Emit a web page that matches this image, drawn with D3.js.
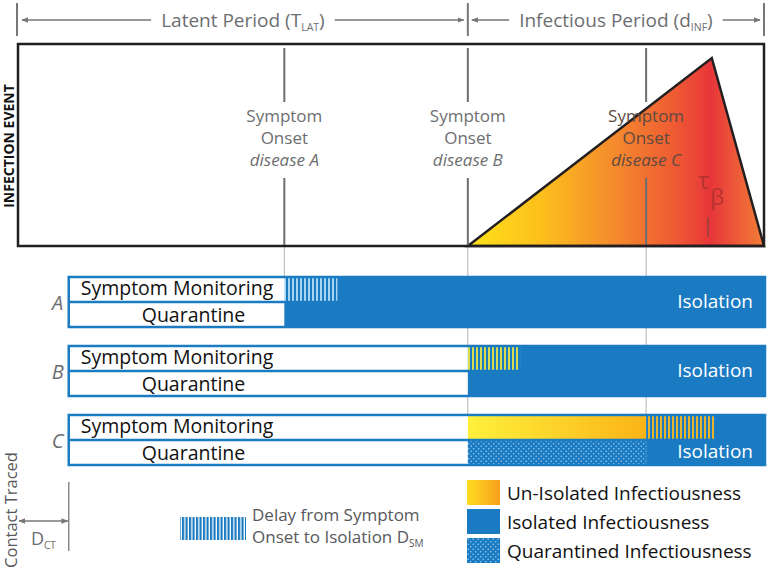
<!DOCTYPE html>
<html>
<head>
<meta charset="utf-8">
<script src="https://cdn.jsdelivr.net/npm/d3@7"></script>
<style>
	body { margin: 0; background: #fff; }
	svg { display: block; font-family: 'Open Sans', sans-serif; }
</style>
</head>
<body>
<div id="chart"><svg width="768" height="571"></svg></div>
<script>
// time runs in arbitrary units: 0 = infection event, 100 = end of infectious period
var periodNames = ['Latent Period (', 'Infectious Period ('];
var periodSymbols = ['T', 'd'];
var periodSubs = ['LAT', 'INF'];
var periodBounds = [0, 60.3, 100];

var diseases = ['A', 'B', 'C'];
var onsetTimes = [35.7, 60.3, 84.2];
var isolationDelays = [7.1, 7.0, 9.1];
var guideEnds = ['A', 'C', 'C'];
var contactTracedTime = 6.8;

// relative infectiousness profile over the infectious period
var profileTimes = [60.3, 93, 100];
var profileValues = [0, 1, 0];
var tauTime = 92.5;

var legendLabels = ['Un-Isolated Infectiousness', 'Isolated Infectiousness', 'Quarantined Infectiousness'];
var legendFills = ['url(#legendGrad)', '#1b7bc2', 'url(#dots)'];

const Diagram = {
	blue: '#1b7bc2',
	gray: '#6d6e71',
	ink: '#231f20',

	init: function() {
		const self = this;
		var defs = d3.select('#chart > svg').append('defs');

		function gradient(id, stops, x1, x2) {
			var g = defs.append('linearGradient').attr('id', id);
			if (x1 !== undefined) {
				g.attr('gradientUnits', 'userSpaceOnUse').attr('x1', x1).attr('x2', x2).attr('y1', 0).attr('y2', 0);
			}
			stops.forEach(function(s) {
				g.append('stop').attr('offset', s[0]).attr('stop-color', s[1]);
			});
		}
		self.gradient = gradient;

		function stripes(id, bg, fg, w, period) {
			var p = defs.append('pattern').attr('id', id)
				.attr('patternUnits', 'userSpaceOnUse')
				.attr('width', period).attr('height', 10);
			p.append('rect').attr('width', period).attr('height', 10).attr('fill', bg);
			p.append('rect').attr('width', w).attr('height', 10).attr('fill', fg);
		}
		stripes('stripesA', self.blue, '#a9d6f2', 2, 4);
		stripes('stripesB', self.blue, '#d9de4e', 2, 4);
		stripes('stripesC', self.blue, '#e9b32c', 2, 4);
		stripes('stripesLegend', '#fff', self.blue, 2.2, 3.5);

		var dots = defs.append('pattern').attr('id', 'dots')
			.attr('patternUnits', 'userSpaceOnUse').attr('width', 5).attr('height', 5);
		dots.append('rect').attr('width', 5).attr('height', 5).attr('fill', self.blue);
		dots.append('circle').attr('cx', 1.2).attr('cy', 1.2).attr('r', 0.8).attr('fill', '#9ccbef');
		dots.append('circle').attr('cx', 3.7).attr('cy', 3.7).attr('r', 0.8).attr('fill', '#9ccbef');

		gradient('legendGrad', [[0, '#ffdc22'], [1, '#f6a01c']]);

		var m = defs.append('marker').attr('id', 'arrow')
			.attr('viewBox', '0 0 10 10').attr('refX', 9).attr('refY', 5)
			.attr('markerWidth', 7).attr('markerHeight', 7).attr('orient', 'auto-start-reverse')
			.attr('markerUnits', 'userSpaceOnUse');
		m.append('path').attr('d', 'M0,1L10,5L0,9Z').attr('fill', '#777');
	},

	draw: function() {
		const self = this;
		var svg = d3.select('#chart > svg');
		var x = d3.scaleLinear().domain([0, 100]).range([18, 764]);
		var yProfile = d3.scaleLinear().domain([0, 1]).range([246, 58]);
		var yBar = d3.scaleBand().domain(diseases).range([277, 465]).paddingInner(0.275);
		var rowH = yBar.bandwidth() / 2;
		var infStart = periodBounds[1];

		self.gradient('infGrad', [[0, '#ffe21a'], [0.25, '#fcbf1c'], [0.5, '#f4892d'], [0.7, '#ee5a33'],
			[0.82, '#e7363a'], [1, '#f37e37']], x(infStart), x(100));
		self.gradient('unisoGrad', [[0, '#fff03c'], [1, '#fbb417']], x(infStart), x(onsetTimes[2]));

		// period arrows
		var top = svg.append('g').attr('class', 'periods');
		top.selectAll('line.tick').data(periodBounds).join('line')
			.attr('class', 'tick')
			.attr('x1', function(d) { return x(d) - (d === 0 ? 1 : 0) })
			.attr('x2', function(d) { return x(d) - (d === 0 ? 1 : 0) })
			.attr('y1', 3).attr('y2', 36)
			.attr('stroke', '#777').attr('stroke-width', 2);
		periodNames.forEach(function(name, i) {
			var a = x(periodBounds[i]), b = x(periodBounds[i + 1]);
			var cx = (a + b) / 2;
			var t = top.append('text').attr('x', cx).attr('y', 27)
				.attr('text-anchor', 'middle').attr('font-size', 19).attr('fill', self.gray);
			t.append('tspan').text(name + periodSymbols[i]);
			t.append('tspan').attr('font-size', 10.5).attr('dy', 4).text(periodSubs[i]);
			t.append('tspan').attr('dy', -4).text(')');
			var half = t.node().getComputedTextLength() / 2;
			[[cx - half - 10, a + 4], [cx + half + 10, b - 4]].forEach(function(seg) {
				top.append('line').attr('x1', seg[0]).attr('x2', seg[1]).attr('y1', 20).attr('y2', 20)
					.attr('stroke', '#777').attr('stroke-width', 1.6).attr('marker-end', 'url(#arrow)');
			});
		});

		// guide lines from symptom onsets down to the bars
		svg.append('g').selectAll('line').data(onsetTimes).join('line')
			.attr('x1', function(d) { return x(d) }).attr('x2', function(d) { return x(d) })
			.attr('y1', 246).attr('y2', function(d, i) { return yBar(guideEnds[i]) })
			.attr('stroke', '#b5b5b5').attr('stroke-width', 1);

		// infectiousness profile
		var profile = profileTimes.map(function(t, i) { return [t, profileValues[i]] });
		svg.append('path').datum(profile)
			.attr('d', d3.line().x(function(d) { return x(d[0]) }).y(function(d) { return yProfile(d[1]) }).curve(d3.curveLinearClosed))
			.attr('fill', 'url(#infGrad)').attr('stroke', self.ink).attr('stroke-width', 2.5).attr('stroke-linejoin', 'miter');

		// onset markers and labels
		var onset = svg.append('g').selectAll('g').data(onsetTimes).join('g');
		onset.append('line').attr('x1', function(d) { return x(d) }).attr('x2', function(d) { return x(d) })
			.attr('y1', 48).attr('y2', 102).attr('stroke', self.gray).attr('stroke-width', 2);
		onset.append('line').attr('x1', function(d) { return x(d) }).attr('x2', function(d) { return x(d) })
			.attr('y1', 178).attr('y2', 246).attr('stroke', self.gray).attr('stroke-width', 2);
		var lbl = onset.append('text').attr('text-anchor', 'middle').attr('font-size', 17)
			.attr('fill', function(d) { return d > infStart ? '#5d4a42' : self.gray });
		lbl.append('tspan').attr('x', function(d) { return x(d) }).attr('y', 122).text('Symptom');
		lbl.append('tspan').attr('x', function(d) { return x(d) }).attr('y', 144).text('Onset');
		lbl.append('tspan').attr('x', function(d) { return x(d) }).attr('y', 166)
			.attr('font-style', 'italic').text(function(d, i) { return 'disease ' + diseases[i] });

		// tau beta
		var tb = svg.append('g').attr('fill', '#b5322e');
		tb.append('text').attr('x', x(tauTime) - 4).attr('y', 189).attr('font-size', 24).attr('text-anchor', 'middle').text('τ');
		tb.append('text').attr('x', x(tauTime) + 9).attr('y', 205).attr('font-size', 22).attr('text-anchor', 'middle').text('β');
		svg.append('line').attr('x1', x(tauTime)).attr('x2', x(tauTime)).attr('y1', 217).attr('y2', 237)
			.attr('stroke', '#a3403a').attr('stroke-width', 2);

		// top box
		svg.append('rect').attr('x', x(0)).attr('y', 44).attr('width', x(100) - x(0)).attr('height', 202)
			.attr('fill', 'none').attr('stroke', self.ink).attr('stroke-width', 2.5);
		svg.append('text').attr('transform', 'translate(14,146) rotate(-90)')
			.attr('text-anchor', 'middle').attr('font-size', 14).attr('font-weight', 'bold')
			.attr('fill', '#111').text('INFECTION EVENT');

		// bars
		var xEnd = x(100) + 1;
		var bar = svg.append('g').selectAll('g').data(diseases).join('g')
			.attr('transform', function(d) { return 'translate(0,' + yBar(d) + ')' });
		bar.each(function(d, i) {
			var g = d3.select(this);
			var o = onsetTimes[i], iso = o + isolationDelays[i];
			var x0 = x(contactTracedTime);
			g.append('rect').attr('x', x0).attr('width', xEnd - x0).attr('height', rowH * 2).attr('fill', '#fff');
			if (o > infStart) {
				g.append('rect').attr('x', x(infStart)).attr('width', x(o) - x(infStart)).attr('height', rowH).attr('fill', 'url(#unisoGrad)');
				g.append('rect').attr('x', x(infStart)).attr('y', rowH).attr('width', x(o) - x(infStart)).attr('height', rowH).attr('fill', 'url(#dots)');
			}
			g.append('rect').attr('x', x(o)).attr('width', x(iso) - x(o)).attr('height', rowH).attr('fill', 'url(#stripes' + d + ')');
			g.append('rect').attr('x', x(iso)).attr('width', xEnd - x(iso)).attr('height', rowH).attr('fill', self.blue);
			g.append('rect').attr('x', x(o)).attr('y', rowH).attr('width', xEnd - x(o)).attr('height', rowH).attr('fill', self.blue);
			g.append('rect').attr('x', x0).attr('width', xEnd - x0).attr('height', rowH * 2)
				.attr('fill', 'none').attr('stroke', self.blue).attr('stroke-width', 2.5);
			g.append('line').attr('x1', x0).attr('x2', xEnd).attr('y1', rowH).attr('y2', rowH)
				.attr('stroke', self.blue).attr('stroke-width', 2.5);
			g.append('text').attr('x', x0 + 12).attr('y', 18).attr('font-size', 19.5).attr('fill', '#111').text('Symptom Monitoring');
			g.append('text').attr('x', x0 + 73).attr('y', rowH + 20).attr('font-size', 19.5).attr('fill', '#111').text('Quarantine');
			g.append('text').attr('x', xEnd - 12).attr('y', o > infStart ? rowH + 18 : rowH + 6)
				.attr('text-anchor', 'end').attr('font-size', 19).attr('fill', '#fff').text('Isolation');
			g.append('text').attr('x', x0 - 11).attr('y', rowH + 8).attr('text-anchor', 'middle')
				.attr('font-size', 20).attr('font-style', 'italic').attr('fill', self.gray).text(d);
		});

		// contact tracing delay
		var ct = x(contactTracedTime);
		svg.append('line').attr('x1', ct).attr('x2', ct).attr('y1', 482).attr('y2', 551)
			.attr('stroke', '#888').attr('stroke-width', 1.5);
		svg.append('line').attr('x1', x(0) + 1).attr('x2', ct - 1).attr('y1', 521).attr('y2', 521)
			.attr('stroke', '#777').attr('stroke-width', 1.5)
			.attr('marker-start', 'url(#arrow)').attr('marker-end', 'url(#arrow)');
		var dct = svg.append('text').attr('x', 31).attr('y', 545).attr('font-size', 18).attr('fill', self.gray);
		dct.append('tspan').text('D');
		dct.append('tspan').attr('font-size', 10).attr('dy', 4).text('CT');
		svg.append('text').attr('transform', 'translate(17,510) rotate(-90)')
			.attr('text-anchor', 'middle').attr('font-size', 16.5).attr('fill', '#58595b').text('Contact Traced');

		// delay legend
		svg.append('rect').attr('x', 180).attr('y', 517).attr('width', 66).attr('height', 23).attr('fill', 'url(#stripesLegend)');
		var dl = svg.append('text').attr('font-size', 17).attr('fill', '#58595b');
		dl.append('tspan').attr('x', 252).attr('y', 521).text('Delay from Symptom');
		dl.append('tspan').attr('x', 252).attr('y', 543).text('Onset to Isolation D');
		dl.append('tspan').attr('font-size', 10).attr('dy', 4).text('SM');

		// fill legend
		var lg = svg.append('g').selectAll('g').data(legendLabels).join('g')
			.attr('transform', function(d, i) { return 'translate(467,' + (480 + i * 29) + ')' });
		lg.append('rect').attr('width', 33).attr('height', 25).attr('fill', function(d, i) { return legendFills[i] });
		lg.append('text').attr('x', 40).attr('y', 20).attr('font-size', 19).attr('fill', '#111').text(function(d) { return d });
	}
}

Diagram.init();
Diagram.draw();
</script>
</body>
</html>
